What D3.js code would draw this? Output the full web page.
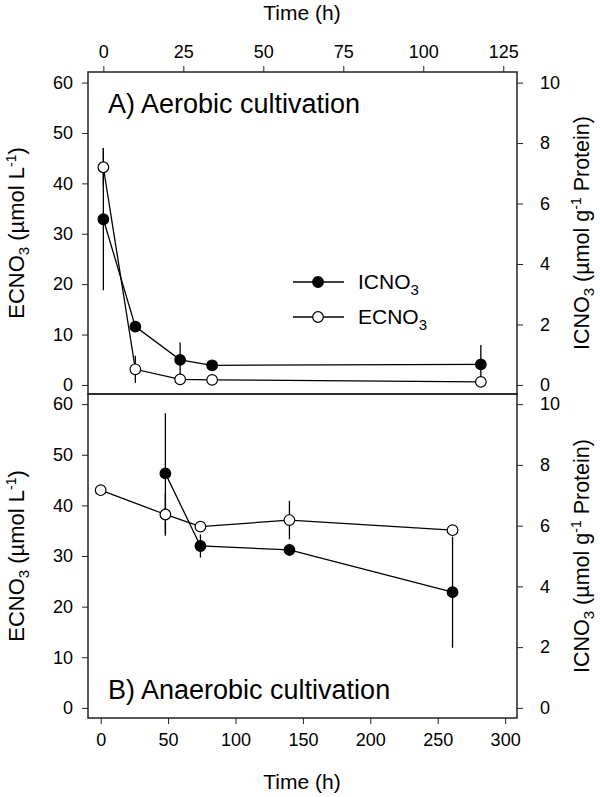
<!DOCTYPE html>
<html>
<head>
<meta charset="utf-8">
<script src="https://cdn.jsdelivr.net/npm/d3@7"></script>
<style>
  body { margin: 0; background: #fff; }
  text { font-family: "Liberation Sans", Arial, sans-serif; fill: #000; }
</style>
</head>
<body>
<svg id="chart" width="600" height="797"></svg>
<script>
// Panel A: aerobic cultivation
var timeA = [0, 10, 24, 34, 118];
var icA = [5.48, 1.93, 0.83, 0.65, 0.68];
var icAErr = [2.35, 0.1, 0.57, 0.1, 0.64];
var ecA = [43.2, 3.1, 1.1, 1.0, 0.6];
var ecAErr = [3.8, 2.7, 0.3, 0.2, 0.2];

// Panel B: anaerobic cultivation
var timeIcB = [48, 74, 140, 261];
var icB = [7.72, 5.33, 5.2, 3.81];
var icBErr = [1.98, 0.38, 0.2, 1.83];
var timeEcB = [0, 48, 74, 140, 261];
var ecB = [43.0, 38.2, 35.8, 37.1, 35.1];
var ecBErr = [0.3, 4.2, 0.3, 3.8, 0.3];

var ticksA = [0, 25, 50, 75, 100, 125];
var ticksB = [0, 50, 100, 150, 200, 250, 300];
var ticksLeft = [0, 10, 20, 30, 40, 50, 60];
var ticksRight = [0, 2, 4, 6, 8, 10];

var svg = d3.select("#chart");
var left = 88, right = 517;
var tickFont = "18px";

function zip(t, v, e) {
  return t.map(function (d, i) { return { t: d, v: v[i], e: e[i] }; });
}

function drawPanel(opt) {
  var g = svg.append("g");
  var x = d3.scaleLinear().domain(opt.xDomain).range([left, right]);
  var yL = d3.scaleLinear().domain(opt.yDomain).range([opt.bottom, opt.top]);
  var yR = d3.scaleLinear().domain([opt.yDomain[0] / 6, opt.yDomain[1] / 6]).range([opt.bottom, opt.top]);

  // frame
  g.append("rect")
    .attr("x", left).attr("y", opt.top)
    .attr("width", right - left).attr("height", opt.bottom - opt.top)
    .attr("fill", "none").attr("stroke", "#222").attr("stroke-width", 1.5);

  // x axis (top for A, bottom for B)
  var xAxis = (opt.xTop ? d3.axisTop(x) : d3.axisBottom(x))
    .tickValues(opt.xTicks).tickSize(6).tickPadding(opt.xTop ? 8 : 9)
    .tickFormat(d3.format("d"));
  var gx = g.append("g")
    .attr("transform", "translate(0," + (opt.xTop ? opt.top : opt.bottom) + ")")
    .call(xAxis);
  gx.select(".domain").remove();

  var gl = g.append("g").attr("transform", "translate(" + left + ",0)")
    .call(d3.axisLeft(yL).tickValues(ticksLeft).tickSize(6).tickPadding(9));
  gl.select(".domain").remove();

  var gr = g.append("g").attr("transform", "translate(" + right + ",0)")
    .call(d3.axisRight(yR).tickValues(ticksRight).tickSize(6).tickPadding(17));
  gr.select(".domain").remove();

  g.selectAll(".tick text").style("font-size", tickFont)
    .style("font-family", "'Liberation Sans', Arial, sans-serif");
  g.selectAll(".tick line").attr("stroke", "#222");

  var ic = opt.ic, ec = opt.ec;
  var lineL = d3.line().x(function (d) { return x(d.t); }).y(function (d) { return yL(d.v); });
  var lineR = d3.line().x(function (d) { return x(d.t); }).y(function (d) { return yR(d.v); });

  // connecting lines
  g.append("path").datum(ec).attr("d", lineL)
    .attr("fill", "none").attr("stroke", "#000").attr("stroke-width", 1.3);
  g.append("path").datum(ic).attr("d", lineR)
    .attr("fill", "none").attr("stroke", "#000").attr("stroke-width", 1.3);

  // error bars
  g.append("g").selectAll("line").data(ec).enter().append("line")
    .attr("x1", function (d) { return x(d.t); }).attr("x2", function (d) { return x(d.t); })
    .attr("y1", function (d) { return yL(d.v - d.e); }).attr("y2", function (d) { return yL(d.v + d.e); })
    .attr("stroke", "#000").attr("stroke-width", 1.3);
  g.append("g").selectAll("line").data(ic).enter().append("line")
    .attr("x1", function (d) { return x(d.t); }).attr("x2", function (d) { return x(d.t); })
    .attr("y1", function (d) { return yR(d.v - d.e); }).attr("y2", function (d) { return yR(d.v + d.e); })
    .attr("stroke", "#000").attr("stroke-width", 1.3);

  // markers
  g.append("g").selectAll("circle").data(ec).enter().append("circle")
    .attr("cx", function (d) { return x(d.t); }).attr("cy", function (d) { return yL(d.v); })
    .attr("r", 5.3).attr("fill", "#fff").attr("stroke", "#000").attr("stroke-width", 1.2);
  g.append("g").selectAll("circle").data(ic).enter().append("circle")
    .attr("cx", function (d) { return x(d.t); }).attr("cy", function (d) { return yR(d.v); })
    .attr("r", 5.3).attr("fill", "#000").attr("stroke", "#000").attr("stroke-width", 1.2);

  // panel title
  g.append("text").attr("x", 108).attr("y", opt.titleY)
    .style("font-size", "27px").text(opt.title);

  // left axis label
  var mid = (opt.top + opt.bottom) / 2;
  var tl = g.append("text")
    .attr("transform", "translate(24," + mid + ") rotate(-90)")
    .attr("text-anchor", "middle").style("font-size", "22px");
  tl.append("tspan").text("ECNO");
  tl.append("tspan").attr("dy", 5).style("font-size", "15px").text("3");
  tl.append("tspan").attr("dy", -5).text(" (\u00b5mol L");
  tl.append("tspan").attr("dy", -8).style("font-size", "14px").text("-1");
  tl.append("tspan").attr("dy", 8).text(")");

  // right axis label
  var tr = g.append("text")
    .attr("transform", "translate(589," + mid + ") rotate(-90)")
    .attr("text-anchor", "middle").style("font-size", "21.5px");
  tr.append("tspan").text("ICNO");
  tr.append("tspan").attr("dy", 5).style("font-size", "15px").text("3");
  tr.append("tspan").attr("dy", -5).text(" (\u00b5mol g");
  tr.append("tspan").attr("dy", -8).style("font-size", "14px").text("-1");
  tr.append("tspan").attr("dy", 8).text(" Protein)");
}

drawPanel({
  top: 72, bottom: 394, xTop: true,
  xDomain: [-4.8, 129.3], yDomain: [-1.8, 62.1], xTicks: ticksA,
  ic: zip(timeA, icA, icAErr), ec: zip(timeA, ecA, ecAErr),
  title: "A) Aerobic cultivation", titleY: 113
});

drawPanel({
  top: 394, bottom: 718, xTop: false,
  xDomain: [-9.4, 308.8], yDomain: [-2, 62], xTicks: ticksB,
  ic: zip(timeIcB, icB, icBErr), ec: zip(timeEcB, ecB, ecBErr),
  title: "B) Anaerobic cultivation", titleY: 699
});

// axis titles for time
svg.append("text").attr("x", 302).attr("y", 20).attr("text-anchor", "middle")
  .style("font-size", "21px").text("Time (h)");
svg.append("text").attr("x", 302).attr("y", 789).attr("text-anchor", "middle")
  .style("font-size", "21px").text("Time (h)");

// legend
var legendItems = [
  { name: "ICNO", fill: "#000", y: 282 },
  { name: "ECNO", fill: "#fff", y: 317 }
];
var lg = svg.append("g").selectAll("g").data(legendItems).enter().append("g");
lg.append("line").attr("x1", 293).attr("x2", 344)
  .attr("y1", function (d) { return d.y; }).attr("y2", function (d) { return d.y; })
  .attr("stroke", "#000").attr("stroke-width", 1.3);
lg.append("circle").attr("cx", 318).attr("cy", function (d) { return d.y; })
  .attr("r", 5.3).attr("fill", function (d) { return d.fill; })
  .attr("stroke", "#000").attr("stroke-width", 1.2);
var lt = lg.append("text").attr("x", 358).attr("y", function (d) { return d.y + 7; })
  .style("font-size", "21px");
lt.append("tspan").text(function (d) { return d.name; });
lt.append("tspan").attr("dy", 6).style("font-size", "15px").text("3");
</script>
</body>
</html>
